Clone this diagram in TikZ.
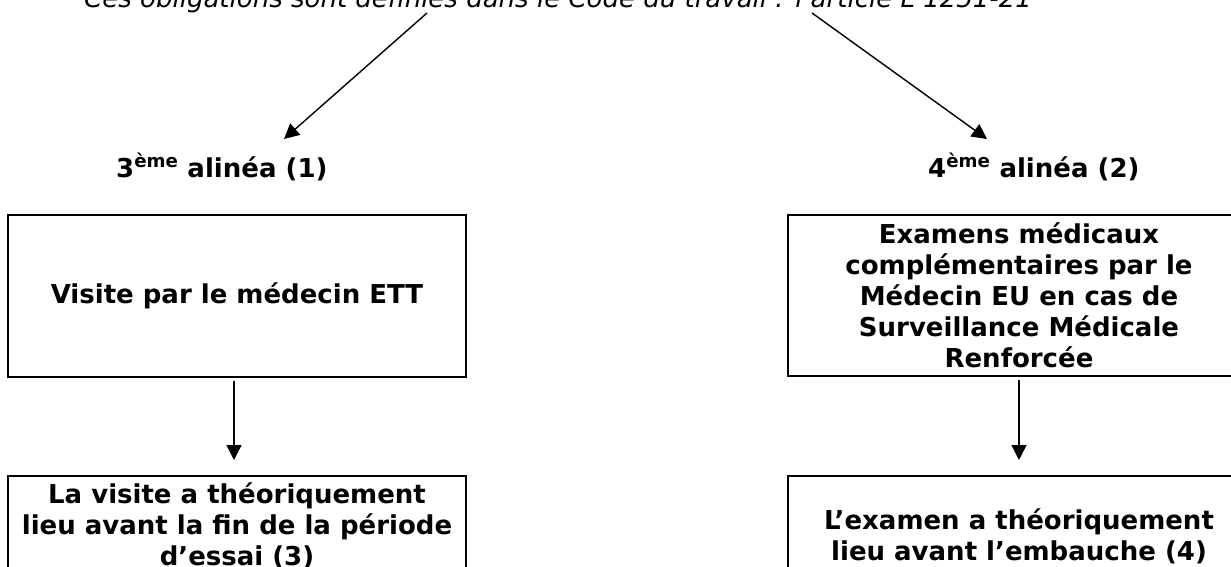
\documentclass[tikz,border=0pt]{standalone}
\usepackage{fontspec}
\setmainfont{DejaVu Sans}
\usetikzlibrary{arrows.meta}
\begin{document}
\begin{tikzpicture}[x=1pt,y=-1pt,
  box/.style={draw, line width=1.8pt, align=center, inner sep=0pt,
    font=\fontsize{26}{31}\selectfont\bfseries},
  lbl/.style={anchor=base west, inner sep=0pt, font=\fontsize{26}{31}\selectfont\bfseries},
  arr/.style={line width=1.4pt, -{Triangle[length=15pt,width=15pt]}}]
\useasboundingbox (0,0) rectangle (1231,567);
\node[anchor=base west, inner sep=0pt, font=\fontsize{26}{31}\selectfont\itshape] (top) at (84,8)
  {Ces obligations sont définies dans le Code du travail : l'article L 1251-21};
\coordinate (ls) at (427,13);
\coordinate (le) at (284,139);
\coordinate (rs) at (812,13);
\coordinate (re) at (987,139);
\draw[arr] (ls) -- (le);
\draw[arr] (rs) -- (re);
\node[lbl] (al3) at (116,177) {3\textsuperscript{ème} alinéa (1)};
\node[lbl] (al4) at (928,177) {4\textsuperscript{ème} alinéa (2)};
\node[box, minimum width=458pt, minimum height=162pt] (lb1) at (237,296)
  {Visite par le médecin ETT};
\node[box, minimum width=458pt, minimum height=100pt, anchor=north] (lb2) at (237,475)
  {La visite a théoriquement\\lieu avant la fin de la période\\d’essai (3)};
\node[box, minimum width=462pt, minimum height=161pt] (rb1) at (1019,295.5)
  {Examens médicaux\\complémentaires par le\\Médecin EU en cas de\\Surveillance Médicale\\Renforcée};
\node[box, minimum width=462pt, minimum height=120pt, anchor=north] (rb2) at (1019,475)
  {L'examen a théoriquement\\lieu avant l’embauche (4)};
\coordinate (lx) at (234,0);
\coordinate (rx) at (1019,0);
\draw[arr] ([yshift=-3pt]lb1.south -| lx) -- ([yshift=15pt]lb2.north -| lx);
\draw[arr] ([yshift=-3pt]rb1.south -| rx) -- ([yshift=15pt]rb2.north -| rx);
\end{tikzpicture}
\end{document}
